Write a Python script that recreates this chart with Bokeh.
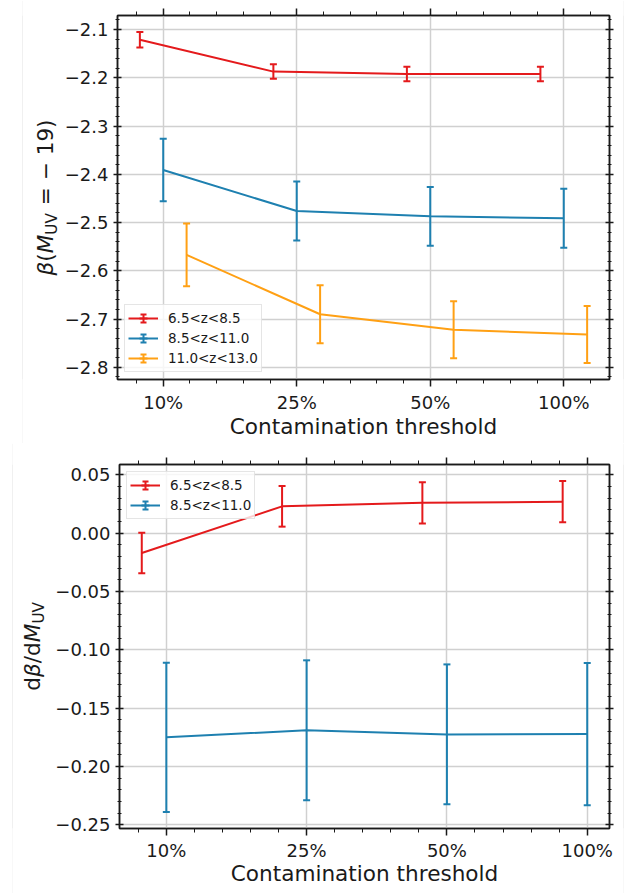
import numpy as np
from bokeh.plotting import figure
from bokeh.models import (ColumnDataSource, Range1d, Whisker, TeeHead, Legend, LegendItem,
                          LinearAxis, SingleIntervalTicker, CustomJSTickFormatter, Label)
from bokeh.layouts import column, row
from bokeh.embed import file_html
from bokeh.resources import INLINE

# ---------------- data ----------------
thresholds = ["10%", "25%", "50%", "100%"]
z_bins = ["6.5<z<8.5", "8.5<z<11.0", "11.0<z<13.0"]

# beta(M_UV = -19)
beta_z65_85 = [-2.121, -2.187, -2.192, -2.192]
beta_z65_85_err = [0.016, 0.015, 0.015, 0.015]
beta_z85_110 = [-2.391, -2.476, -2.487, -2.491]
beta_z85_110_err = [0.065, 0.061, 0.061, 0.061]
beta_z110_130 = [-2.567, -2.690, -2.722, -2.732]
beta_z110_130_err = [0.065, 0.060, 0.059, 0.059]

# d beta / d M_UV
slope_z65_85 = [-0.017, 0.023, 0.026, 0.027]
slope_z65_85_err = [0.0174, 0.0174, 0.0177, 0.0177]
slope_z85_110 = [-0.175, -0.169, -0.1725, -0.1722]
slope_z85_110_err = [0.064, 0.060, 0.060, 0.061]

# ---------------- style ----------------
FONT = "DejaVu Sans"
INK = "#1a1a1a"
GRID = "#d0d0d0"
EDGE = "#e2e2e2"
COLORS = ["#e41a1c", "#1e80b0", "#ffa014"]
OFFSETS = [-0.175, 0.0, 0.175]
W = 623
FRAME_LEFT, BORDER_R = 117, 14

EM = {"β": 0.64, "(": 0.39, ")": 0.39, "M": 0.863, "U": 0.732, "V": 0.684, "=": 0.838,
      "−": 0.838, " ": 0.318, "1": 0.636, "9": 0.636, "d": 0.635, "/": 0.337}


def text_len(s, size):
    return sum(EM.get(ch, 0.6) for ch in s) * size


def padded(lo, hi, frac=0.05):
    span = hi - lo
    return lo - frac * span, hi + frac * span


def style_axes(p, y_interval, y_digits, lbl_standoff, axis_lbl_standoff):
    xt = SingleIntervalTicker(interval=1, num_minor_ticks=5)
    yt = SingleIntervalTicker(interval=y_interval, num_minor_ticks=5)
    xfmt = CustomJSTickFormatter(args=dict(labels=thresholds), code="""
        const i = Math.round(tick);
        return (Math.abs(tick - i) < 1e-6 && i >= 0 && i < labels.length) ? labels[i] : "";
    """)
    yfmt = CustomJSTickFormatter(args=dict(d=y_digits), code="""
        return tick.toFixed(d).replace('-', '\u2212');
    """)
    blank = CustomJSTickFormatter(code="return '';")

    xb = p.xaxis[0]
    yl = p.yaxis[0]
    xb.ticker = xt
    xb.formatter = xfmt
    yl.ticker = yt
    yl.formatter = yfmt
    xa = LinearAxis(ticker=xt, formatter=blank)
    yr = LinearAxis(ticker=yt, formatter=blank)
    p.add_layout(xa, "above")
    p.add_layout(yr, "right")

    for ax in (xb, xa):
        ax.major_tick_in, ax.major_tick_out = 0, 7
        ax.minor_tick_in, ax.minor_tick_out = 0, 4
    for ax in (yl, yr):
        ax.major_tick_in, ax.major_tick_out = 4, 4
        ax.minor_tick_in, ax.minor_tick_out = 2, 2
    for ax in (xb, xa, yl, yr):
        ax.axis_line_color = INK
        ax.axis_line_width = 1.5
        ax.major_tick_line_color = INK
        ax.minor_tick_line_color = INK
        ax.major_tick_line_width = 1.5
        ax.minor_tick_line_width = 1
        ax.major_label_text_font = FONT
        ax.major_label_text_font_size = "18px"
        ax.major_label_text_color = INK
    for ax in (xa, yr):
        ax.major_label_text_font_size = "0px"
        ax.major_label_standoff = 0
    xb.major_label_standoff = lbl_standoff
    yl.major_label_standoff = 5
    xb.axis_label = "Contamination threshold"
    xb.axis_label_text_font = FONT
    xb.axis_label_text_font_size = "21.6px"
    xb.axis_label_text_font_style = "normal"
    xb.axis_label_text_color = INK
    xb.axis_label_standoff = axis_lbl_standoff

    p.xgrid.ticker = xt
    p.ygrid.ticker = yt
    for g in (p.xgrid[0], p.ygrid[0]):
        g.grid_line_color = GRID
        g.grid_line_width = 1.5
    p.outline_line_color = INK
    p.outline_line_width = 1.5


def strip(width, height, top, bottom, fill="white"):
    """Plain filler figure; its frame is aligned with the main plot's frame.
    Data units are canvas pixels (x from left, y from canvas bottom)."""
    f = figure(width=width, height=height, x_range=Range1d(0, width),
               y_range=Range1d(bottom, height - top),
               output_backend="svg", toolbar_location=None, min_border=0,
               min_border_top=top, min_border_bottom=bottom,
               x_axis_location=None, y_axis_location=None, outline_line_color=None,
               background_fill_color=fill, border_fill_color=fill)
    f.grid.visible = False
    return f


def label_fig(width, height, top, bottom, pieces, mid_x):
    """Rotated, mixed-style y-axis title, centred on the plot frame.
    pieces: (text, style, size_px, x shift px, gap before px); each piece centred."""
    f = strip(width, height, top, bottom)
    total = sum(text_len(t, s) + g for t, st, s, sh, g in pieces)
    centre = height - (top + height - bottom) / 2
    pos = centre - total / 2
    for t, st, s, sh, g in pieces:
        pos += g
        w = text_len(t, s)
        f.add_layout(Label(x=mid_x + sh, y=pos + w / 2, x_units="data", y_units="data", text=t,
                           angle=np.pi / 2, angle_units="rad", text_align="center",
                           text_baseline="middle", text_font=FONT,
                           text_font_size=f"{s}px", text_font_style=st, text_color=INK))
        pos += w
    return f


def add_series(p, vals, errs, color, offset, label):
    xs = [i + offset for i in range(len(thresholds))]
    src = ColumnDataSource(dict(x=xs, y=vals,
                                lo=[v - e for v, e in zip(vals, errs)],
                                hi=[v + e for v, e in zip(vals, errs)]))
    r_line = p.line("x", "y", source=src, line_color=color, line_width=2)
    p.add_layout(Whisker(source=src, base="x", upper="hi", lower="lo", dimension="height",
                         line_color=color, line_width=2,
                         upper_head=TeeHead(size=7, line_color=color, line_width=2),
                         lower_head=TeeHead(size=7, line_color=color, line_width=2)))
    # legend-only marks (error-bar symbol): not shown in the plot area
    nan = [float("nan")]
    r_bar = p.scatter(x=nan, y=nan, marker="cross", size=8, line_color=color, line_width=2)
    r_cap = p.scatter(x=nan, y=nan, marker="square", size=8, fill_color=None, line_color=color,
                      line_width=2, line_dash="6 10", line_dash_offset=15)
    return LegendItem(label=label, renderers=[r_line, r_bar, r_cap])


def make_legend(items, loc):
    return Legend(items=items, location=loc, margin=7, padding=3, spacing=0,
                  glyph_width=30, glyph_height=20, label_standoff=10, label_height=16,
                  label_text_font=FONT, label_text_font_size="13.5px", label_text_color=INK,
                  border_line_color="#cccccc", border_line_width=1,
                  background_fill_color="white", background_fill_alpha=0.8)


def xr_of(series_list):
    xs = [i + OFFSETS[k] for k in series_list for i in range(len(thresholds))]
    return padded(min(xs), max(xs))


def yr_of(pairs):
    lo = min(v - e for vals, errs in pairs for v, e in zip(vals, errs))
    hi = max(v + e for vals, errs in pairs for v, e in zip(vals, errs))
    return padded(lo, hi)


def panel_row(p, H, T, B, pad_w, pieces, mid_x):
    lw = FRAME_LEFT - (W - p.width)  # unused guard
    lab_w = (W - p.width) - pad_w - 1
    return row(strip(pad_w, H, T, B), strip(1, H, T, B, EDGE),
               label_fig(lab_w, H, T, B, pieces, mid_x - pad_w - 1),
               p, strip(1, H, T, B, EDGE), spacing=0)


# ---------------- top panel ----------------
top_pairs = [(beta_z65_85, beta_z65_85_err), (beta_z85_110, beta_z85_110_err),
             (beta_z110_130, beta_z110_130_err)]
H1, T1, B1, LW1 = 443, 15, 64, 60
xr1 = xr_of([0, 1, 2])
yr1 = yr_of(top_pairs)
p1 = figure(width=W - LW1, height=H1, x_range=Range1d(*xr1), y_range=Range1d(*yr1),
            output_backend="svg", toolbar_location=None,
            min_border_left=FRAME_LEFT - LW1, min_border_right=BORDER_R,
            min_border_top=T1, min_border_bottom=B1)
style_axes(p1, 0.1, 1, 5, -2)
items1 = [add_series(p1, v, e, COLORS[k], OFFSETS[k], z_bins[k])
          for k, (v, e) in enumerate(top_pairs)]
p1.add_layout(make_legend(items1, "bottom_left"))
row1 = panel_row(p1, H1, T1, B1, 22,
                 [("β", "italic", 21.6, 0, 0), ("(", "normal", 21.6, 0, 0),
                  ("M", "italic", 21.6, 0, 0), ("UV", "normal", 15.1, 6, 0),
                  ("= − 19)", "normal", 21.6, 0, 8)],
                 45)

# ---------------- bottom panel ----------------
bot_pairs = [(slope_z65_85, slope_z65_85_err), (slope_z85_110, slope_z85_110_err)]
H2, T2, B2, LW2 = 450, 21, 65, 52
xr2 = xr_of([0, 1])
yr2 = yr_of(bot_pairs)
p2 = figure(width=W - LW2, height=H2, x_range=Range1d(*xr2), y_range=Range1d(*yr2),
            output_backend="svg", toolbar_location=None,
            min_border_left=FRAME_LEFT - LW2, min_border_right=BORDER_R,
            min_border_top=T2, min_border_bottom=B2)
style_axes(p2, 0.05, 2, 4, -3)
items2 = [add_series(p2, v, e, COLORS[k], OFFSETS[k], z_bins[k])
          for k, (v, e) in enumerate(bot_pairs)]
p2.add_layout(make_legend(items2, "top_left"))
row2 = panel_row(p2, H2, T2, B2, 12,
                 [("d", "normal", 21.6, 0, 0), ("β", "italic", 21.6, 0, 0),
                  ("/d", "normal", 21.6, 0, 0), ("M", "italic", 21.6, 0, 0),
                  ("UV", "normal", 15.1, 6, 0)],
                 32)

layout = column(row1, row2, spacing=0)
open("out.html", "w").write(file_html(layout, INLINE))
